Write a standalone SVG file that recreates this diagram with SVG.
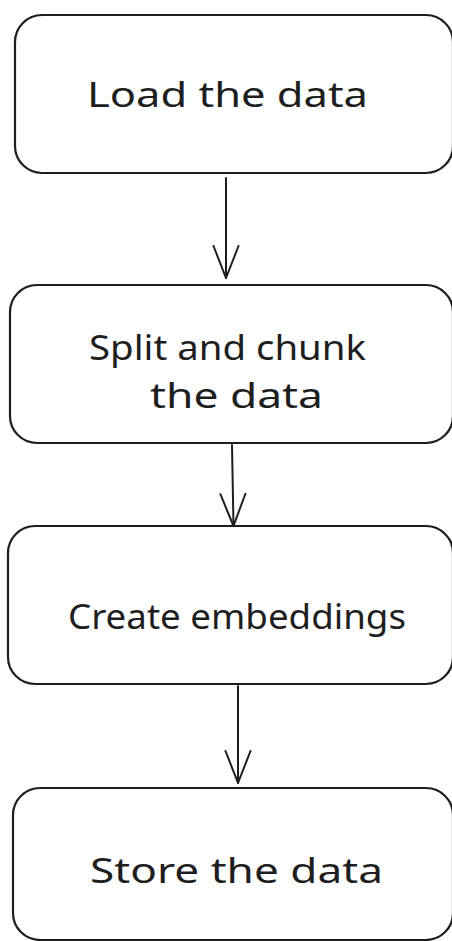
<svg xmlns="http://www.w3.org/2000/svg" width="452" height="941" viewBox="0 0 452 941">
  <style>
    .box { fill: #ffffff; stroke: #1e1e1e; stroke-width: 2.2; }
    .label { font-family: "Noto Sans", "DejaVu Sans", sans-serif; font-size: 34px; fill: #1e1e1e; text-anchor: middle; }
    .wire { fill: none; stroke: #1e1e1e; stroke-width: 2; stroke-linecap: round; }
  </style>
  <defs>
    <marker id="open-head" viewBox="-34 -15 36 30" refX="0" refY="0" markerWidth="36" markerHeight="30" markerUnits="userSpaceOnUse" orient="auto">
      <path d="M-32,-12.5 L0,0 L-32,12.5" fill="none" stroke="#1e1e1e" stroke-width="2" stroke-linecap="round" stroke-linejoin="round"/>
    </marker>
  </defs>
  <rect width="452" height="941" fill="#ffffff"/>

  <g id="load">
    <rect class="box" x="15" y="15" width="438" height="158" rx="27" ry="27"/>
    <text class="label" x="227.5" y="107" textLength="281" lengthAdjust="spacingAndGlyphs">Load the data</text>
  </g>

  <g id="split">
    <rect class="box" x="10" y="285" width="443" height="158" rx="27" ry="27"/>
    <text class="label" x="227.5" y="360" textLength="277" lengthAdjust="spacingAndGlyphs">Split and chunk</text>
    <text class="label" x="236.5" y="408" textLength="173" lengthAdjust="spacingAndGlyphs">the data</text>
  </g>

  <g id="embed">
    <rect class="box" x="8" y="526" width="445" height="158" rx="27" ry="27"/>
    <text class="label" x="237" y="629" textLength="338" lengthAdjust="spacingAndGlyphs">Create embeddings</text>
  </g>

  <g id="store">
    <rect class="box" x="13" y="788" width="440" height="152" rx="27" ry="27"/>
    <text class="label" x="236.5" y="883" textLength="293" lengthAdjust="spacingAndGlyphs">Store the data</text>
  </g>

  <g id="connectors">
    <path class="wire" d="M226,178 L226,278" marker-end="url(#open-head)"/>
    <path class="wire" d="M232,445 L233.5,526" marker-end="url(#open-head)"/>
    <path class="wire" d="M238,686 L238,783" marker-end="url(#open-head)"/>
  </g>
</svg>
